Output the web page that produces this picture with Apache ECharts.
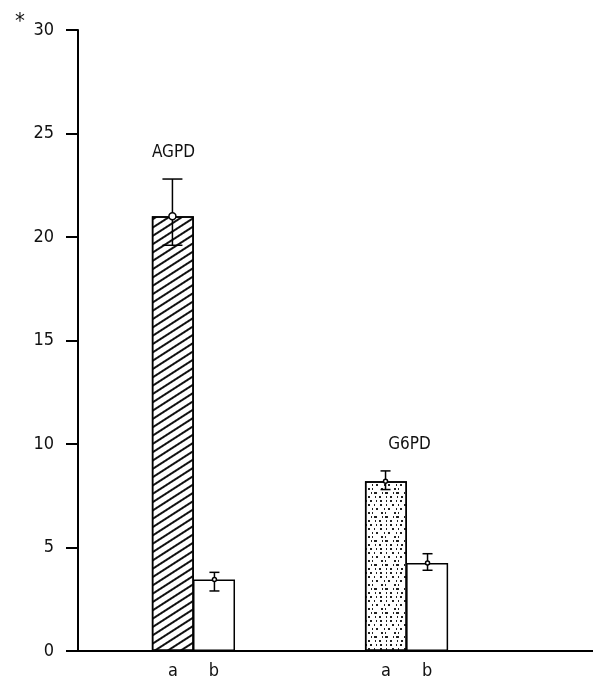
<!DOCTYPE html>
<html>
<head>
<meta charset="utf-8">
<script src="https://cdn.jsdelivr.net/npm/echarts@6/dist/echarts.min.js"></script>
<style>
  html, body { margin: 0; padding: 0; background: #fff; }
  #chart { width: 593px; height: 680px; }
</style>
</head>
<body>
<div id="chart"></div>
<script>
// enzymes and the slot each pair sits in along a 29-slot x axis
const enzymes = ['AGPD', 'G6PD'];
const enzymeSlot = [6, 18];
const slotCount = 29;
const aValues = [21.0, 8.2];
const bValues = [3.45, 4.25];
const aLow = [19.6, 7.8];
const aHigh = [22.8, 8.7];
const bLow = [2.9, 3.9];
const bHigh = [3.8, 4.7];
const yTicks = [0, 5, 10, 15, 20, 25, 30];

const FONT = "'DejaVu Sans Condensed', 'DejaVu Sans', sans-serif";
const BAR_W = 42;

const slots = Array.from({ length: slotCount }, () => '');
enzymeSlot.forEach((s, i) => { slots[s] = enzymes[i]; });

const chart = echarts.init(document.getElementById('chart'));

function toSlots(vals) {
  const out = slots.map(() => '-');
  vals.forEach((v, i) => { out[enzymeSlot[i]] = v; });
  return out;
}

const hatch = {
  symbol: 'rect', symbolSize: 1,
  dashArrayX: [1, 0], dashArrayY: [1.3, 4.6],
  rotation: -Math.PI / 5.5, color: '#111'
};
const speckle = {
  symbol: 'rect', symbolSize: 1,
  dashArrayX: [[2, 4, 1, 3], [0, 2, 1, 5, 2, 2], [1, 3, 2, 6], [0, 4, 2, 2, 1, 4], [3, 5, 1, 2], [0, 1, 1, 3, 2, 4]],
  dashArrayY: [1.5, 1.8],
  color: '#222'
};

const aData = toSlots(aValues).map((v, i) => {
  if (v === '-') return v;
  return { value: v, itemStyle: { decal: i === enzymeSlot[0] ? hatch : speckle } };
});

// error bars: [slot, low, high, side(0=a,1=b), enzyme index, mean]
const errData = [];
enzymes.forEach((e, i) => {
  errData.push([enzymeSlot[i], aLow[i], aHigh[i], 0, i, aValues[i]]);
  errData.push([enzymeSlot[i], bLow[i], bHigh[i], 1, i, bValues[i]]);
});

function renderError(params, api) {
  const slot = api.value(0);
  const side = api.value(3);
  const idx = api.value(4);
  const c = api.coord([slot, 0])[0];
  const x = side === 0 ? c - BAR_W / 2 : c + BAR_W / 2;
  const yl = api.coord([slot, api.value(1)])[1];
  const yh = api.coord([slot, api.value(2)])[1];
  const ym = api.coord([slot, api.value(5)])[1];
  const big = side === 0 && idx === 0;
  const cap = big ? 10 : 5;
  const st = { stroke: '#000', lineWidth: 1.5 };
  const children = [
    { type: 'line', shape: { x1: x, y1: yl, x2: x, y2: yh }, style: st },
    { type: 'line', shape: { x1: x - cap, y1: yl, x2: x + cap, y2: yl }, style: st },
    { type: 'line', shape: { x1: x - cap, y1: yh, x2: x + cap, y2: yh }, style: st },
    { type: 'circle', shape: { cx: x, cy: ym, r: big ? 3.5 : 2 },
      style: { fill: '#fff', stroke: '#000', lineWidth: 1.5 } }
  ];
  if (side === 0) {
    const lx = idx === 0 ? x + 1 : c + 3;
    children.push({
      type: 'text',
      style: {
        text: enzymes[idx], x: lx, y: yh - 26, align: 'center', verticalAlign: 'middle',
        font: '17px ' + FONT, fill: '#111'
      }
    });
  }
  return { type: 'group', children: children };
}

chart.setOption({
  animation: false,
  backgroundColor: '#fff',
  title: {
    text: '*', left: 10, top: 6,
    textStyle: { fontSize: 22, fontWeight: 'normal', color: '#111', fontFamily: FONT }
  },
  grid: { left: 78, right: 0, top: 30, bottom: 29 },
  xAxis: {
    type: 'category',
    data: slots,
    axisLine: { lineStyle: { color: '#000', width: 2 } },
    axisTick: { show: false },
    axisLabel: { show: false }
  },
  yAxis: {
    type: 'value',
    min: 0, max: 30, interval: 5,
    splitLine: { show: false },
    axisLine: { show: true, lineStyle: { color: '#000', width: 2 } },
    axisTick: { show: true, length: 12, lineStyle: { color: '#000', width: 2 } },
    axisLabel: {
      margin: 24, fontSize: 18, color: '#111', fontFamily: FONT,
      formatter: v => yTicks.indexOf(v) >= 0 ? String(v) : ''
    }
  },
  series: [
    {
      name: 'a', type: 'bar', barWidth: BAR_W, barGap: '-2%',
      data: aData,
      itemStyle: { color: '#fff', borderColor: '#000', borderWidth: 1.5 },
      label: {
        show: true, position: 'bottom', distance: 11, formatter: 'a',
        fontSize: 18, color: '#111', fontFamily: FONT
      }
    },
    {
      name: 'b', type: 'bar', barWidth: BAR_W, barGap: '-2%',
      data: toSlots(bValues),
      itemStyle: { color: '#fff', borderColor: '#000', borderWidth: 1.5 },
      label: {
        show: true, position: 'bottom', distance: 11, formatter: 'b',
        fontSize: 18, color: '#111', fontFamily: FONT
      }
    },
    {
      name: 'err', type: 'custom',
      renderItem: renderError,
      data: errData,
      z: 10
    }
  ]
});
</script>
</body>
</html>
